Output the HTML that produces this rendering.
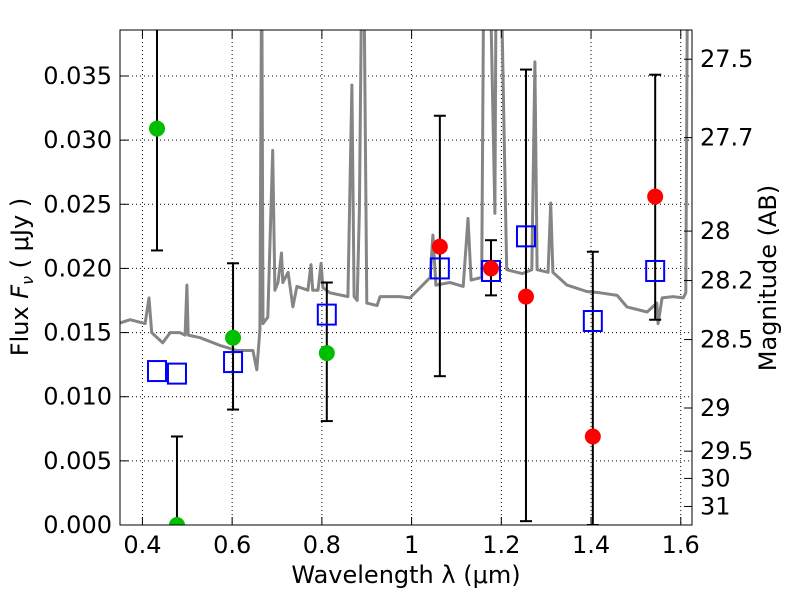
<!DOCTYPE html>
<html><head><meta charset="utf-8"><style>
body{margin:0;background:#fff}
svg text{font-family:"DejaVu Sans","Liberation Sans",sans-serif;font-size:24px;fill:#000}
</style></head><body>
<svg id="chart" width="800" height="600" xmlns="http://www.w3.org/2000/svg">
<defs><clipPath id="clip"><rect x="120" y="30" width="572" height="495"/></clipPath></defs>
<rect width="800" height="600" fill="#fff"/>
<g id="grid"></g>
<g id="spec" clip-path="url(#clip)"></g>
<g id="marks" clip-path="url(#clip)"></g>
<rect x="120" y="30" width="572" height="495" fill="none" stroke="#000" stroke-width="1"/>
<g id="axes"></g>
<text x="406" y="583" text-anchor="middle">Wavelength  λ (μm)</text>
<text transform="translate(28,277) rotate(-90)" text-anchor="middle">Flux  <tspan font-style="italic">F</tspan><tspan font-style="italic" font-size="16" dy="5">ν</tspan><tspan dy="-5">  ( μJy )</tspan></text>
<text transform="translate(776,278) rotate(-90)" text-anchor="middle">Magnitude (AB)</text>
</svg>
<script>
const xTicks=[0.4,0.6,0.8,1.0,1.2,1.4,1.6];
const xTickLabels=["0.4","0.6","0.8","1","1.2","1.4","1.6"];
const yTicks=[0,0.005,0.01,0.015,0.02,0.025,0.03,0.035];
const yTickLabels=["0.000","0.005","0.010","0.015","0.020","0.025","0.030","0.035"];
const magTicks=[27.5,27.7,28,28.2,28.5,29,29.5,30,31];
const magTickLabels=["27.5","27.7","28","28.2","28.5","29","29.5","30","31"];
const specWave=[0.35,0.3726,0.4059,0.4147,0.4206,0.4451,0.4618,0.4834,0.4952,0.4991,0.502,0.5285,0.5726,0.6109,0.6462,0.655,0.6619,0.6658,0.6687,0.6795,0.6903,0.6952,0.7021,0.7099,0.7129,0.7247,0.7355,0.7443,0.7688,0.7757,0.7796,0.7914,0.7982,0.8022,0.8178,0.8581,0.8669,0.8718,0.8787,0.8836,0.8894,0.8933,0.9002,0.9228,0.9297,0.9738,0.9963,1.0189,1.0415,1.0474,1.0542,1.0856,1.115,1.1258,1.1327,1.1562,1.1611,1.1739,1.1856,1.1886,1.1984,1.2121,1.2465,1.268,1.2749,1.2798,1.3043,1.3102,1.3151,1.3465,1.3906,1.4201,1.4583,1.4799,1.525,1.5466,1.5495,1.5584,1.5829,1.6054,1.6113,1.6152,1.625];
const specFlux=[0.01575,0.0160,0.0157,0.0177,0.0150,0.0142,0.0150,0.0150,0.0148,0.0187,0.0148,0.0146,0.0140,0.0136,0.0136,0.0121,0.0152,0.045,0.0157,0.0162,0.0292,0.0183,0.0189,0.0212,0.0189,0.0197,0.0170,0.0186,0.0183,0.0203,0.0183,0.0183,0.0204,0.0185,0.0181,0.0178,0.0343,0.0178,0.0175,0.0246,0.045,0.045,0.0173,0.0171,0.0178,0.0178,0.0177,0.0185,0.0193,0.0226,0.0187,0.0189,0.0186,0.0239,0.0191,0.0193,0.045,0.045,0.0243,0.045,0.045,0.0199,0.0196,0.0199,0.0361,0.0199,0.0197,0.0251,0.0197,0.0187,0.0182,0.0181,0.0179,0.0170,0.0166,0.0173,0.0157,0.0177,0.0178,0.0177,0.0181,0.045,0.045];
const greenWave=[0.4325,0.477,0.602,0.811];
const greenFlux=[0.0309,0.0,0.0146,0.0134];
const greenLo=[0.0214,0.0,0.0090,0.0081];
const greenHi=[0.045,0.0069,0.0204,0.0189];
const redWave=[1.063,1.177,1.255,1.404,1.543];
const redFlux=[0.0217,0.0200,0.0178,0.0069,0.0256];
const redLo=[0.0116,0.0179,0.0003,0.0,0.0160];
const redHi=[0.0319,0.0222,0.0355,0.0213,0.0351];
const modelWave=[0.4325,0.477,0.602,0.811,1.063,1.177,1.255,1.404,1.543];
const modelFlux=[0.0120,0.0118,0.0127,0.0164,0.0200,0.0198,0.0225,0.0159,0.0198];

const NS="http://www.w3.org/2000/svg";
const X=w=>120+(w-0.35)*448.6;
const Y=f=>525-f*12829;
const M=m=>Y(Math.pow(10,(23.9-m)/2.5));
function mk(tag,attrs,parent){const e=document.createElementNS(NS,tag);for(const k in attrs)e.setAttribute(k,attrs[k]);document.getElementById(parent).appendChild(e);return e;}
xTicks.forEach((t,i)=>{const x=X(t);
 let g=mk('line',{x1:x,x2:x,y1:30,y2:525,stroke:'#000','stroke-dasharray':'1,3','stroke-width':1},'grid');
 
 mk('line',{x1:x,x2:x,y1:525,y2:517,stroke:'#000'},'axes');
 mk('line',{x1:x,x2:x,y1:30,y2:38,stroke:'#000'},'axes');
 let tx=mk('text',{x:x,y:553,'text-anchor':'middle'},'axes');tx.textContent=xTickLabels[i];
 });
yTicks.forEach((t,i)=>{const y=Y(t);
 if(t>0){let g=mk('line',{x1:120,x2:692,y1:y,y2:y,stroke:'#000','stroke-dasharray':'1,3','stroke-width':1},'grid');
 }
 mk('line',{x1:120,x2:128,y1:y,y2:y,stroke:'#000'},'axes');
 let tx=mk('text',{x:112,y:y+8,'text-anchor':'end'},'axes');tx.textContent=yTickLabels[i];
 });
magTicks.forEach((m,i)=>{const y=M(m);
 mk('line',{x1:684,x2:692,y1:y,y2:y,stroke:'#000'},'axes');
 let tx=mk('text',{x:700,y:y+8,'text-anchor':'start'},'axes');tx.textContent=magTickLabels[i];
 });
let d=specWave.map((w,i)=>(i?'L':'M')+X(w).toFixed(1)+','+Y(specFlux[i]).toFixed(1)).join('');
let sp=mk('path',{d:d,fill:'none',stroke:'#858585','stroke-width':3,'stroke-linejoin':'round'},'spec');

function errbar(w,lo,hi){const x=X(w);
 let l=mk('line',{x1:x,x2:x,y1:Y(lo),y2:Y(hi),stroke:'#000','stroke-width':2},'marks');
 
 [lo,hi].forEach(v=>mk('line',{x1:x-6,x2:x+6,y1:Y(v),y2:Y(v),stroke:'#000','stroke-width':2},'marks'));}
greenWave.forEach((w,i)=>errbar(w,greenLo[i],greenHi[i]));
redWave.forEach((w,i)=>errbar(w,redLo[i],redHi[i]));
modelWave.forEach((w,i)=>{let r=mk('rect',{x:X(w)-9,y:Y(modelFlux[i])-10,width:18,height:20,fill:'none',stroke:'#0000ff','stroke-width':2},'marks');
 });
greenWave.forEach((w,i)=>{let c=mk('circle',{cx:X(w),cy:Y(greenFlux[i]),r:8,fill:'#00bf00'},'marks');
 });
redWave.forEach((w,i)=>{let c=mk('circle',{cx:X(w),cy:Y(redFlux[i]),r:8,fill:'#ff0000'},'marks');
 });
</script>
</body></html>
